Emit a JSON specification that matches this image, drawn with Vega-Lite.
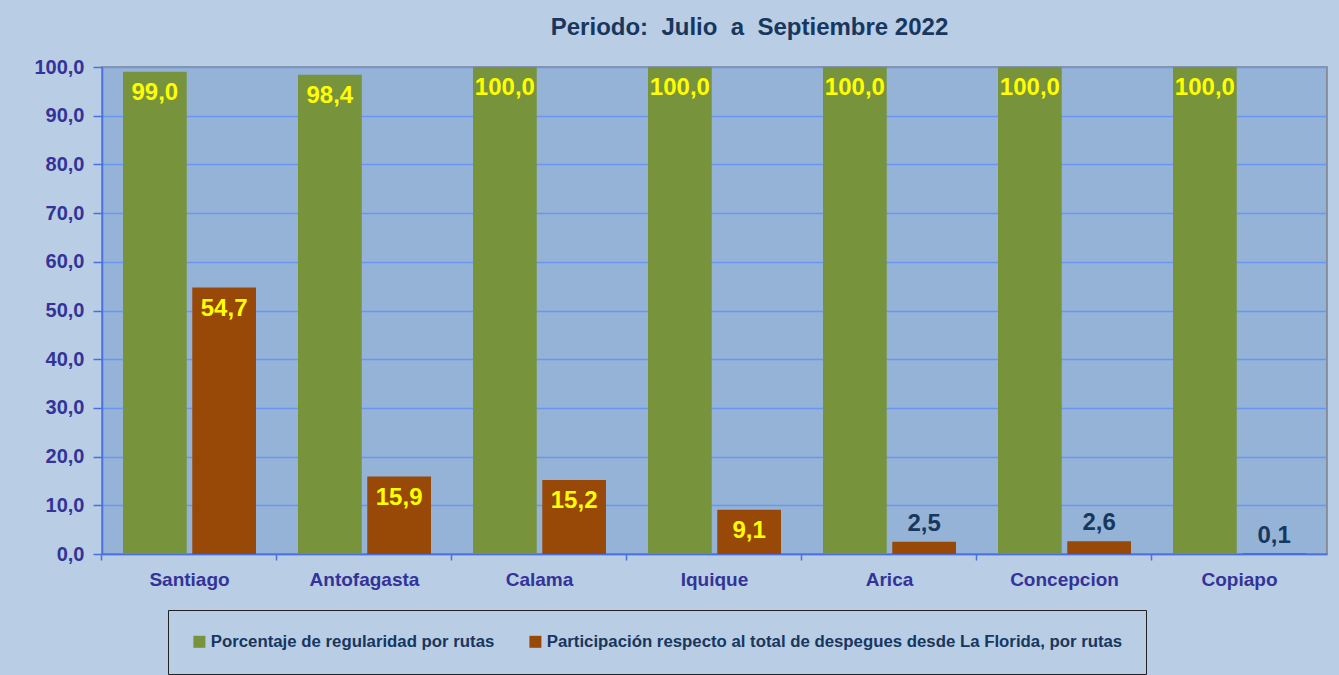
{
  "$schema": "https://vega.github.io/schema/vega-lite/v6.json",
  "width": 1225,
  "height": 487,
  "autosize": {"type": "none"},
  "padding": {"left": 102, "top": 67, "right": 12, "bottom": 121},
  "background": "#B9CDE5",
  "title": {
    "text": "Periodo:\u00a0 Julio\u00a0 a\u00a0 Septiembre 2022",
    "font": "Liberation Sans",
    "fontSize": 24,
    "fontWeight": "bold",
    "color": "#17375E",
    "anchor": "middle",
    "dx": 35,
    "offset": 17
  },
  "config": {
    "locale": {"number": {"decimal": ",", "thousands": ".", "grouping": [3], "currency": ["$", ""]}},
    "view": {"fill": "#95B3D7", "stroke": "#808080", "strokeWidth": 1.5},
    "font": "Liberation Sans"
  },
  "data": {
    "values": [
      {"ruta": "Santiago", "serie": "Porcentaje de regularidad por rutas", "valor": 99.0},
      {"ruta": "Santiago", "serie": "Participación respecto al total de despegues desde La Florida, por rutas", "valor": 54.7},
      {"ruta": "Antofagasta", "serie": "Porcentaje de regularidad por rutas", "valor": 98.4},
      {"ruta": "Antofagasta", "serie": "Participación respecto al total de despegues desde La Florida, por rutas", "valor": 15.9},
      {"ruta": "Calama", "serie": "Porcentaje de regularidad por rutas", "valor": 100.0},
      {"ruta": "Calama", "serie": "Participación respecto al total de despegues desde La Florida, por rutas", "valor": 15.2},
      {"ruta": "Iquique", "serie": "Porcentaje de regularidad por rutas", "valor": 100.0},
      {"ruta": "Iquique", "serie": "Participación respecto al total de despegues desde La Florida, por rutas", "valor": 9.1},
      {"ruta": "Arica", "serie": "Porcentaje de regularidad por rutas", "valor": 100.0},
      {"ruta": "Arica", "serie": "Participación respecto al total de despegues desde La Florida, por rutas", "valor": 2.5},
      {"ruta": "Concepcion", "serie": "Porcentaje de regularidad por rutas", "valor": 100.0},
      {"ruta": "Concepcion", "serie": "Participación respecto al total de despegues desde La Florida, por rutas", "valor": 2.6},
      {"ruta": "Copiapo", "serie": "Porcentaje de regularidad por rutas", "valor": 100.0},
      {"ruta": "Copiapo", "serie": "Participación respecto al total de despegues desde La Florida, por rutas", "valor": 0.1}
    ]
  },
  "encoding": {
    "x": {
      "field": "ruta",
      "type": "nominal",
      "sort": null,
      "scale": {"paddingInner": 0.24, "paddingOuter": 0.12},
      "axis": {
        "title": null,
        "labelAngle": 0,
        "bandPosition": -0.158,
        "labelFont": "Liberation Sans",
        "labelFontSize": 19,
        "labelFontWeight": "bold",
        "labelColor": "#333399",
        "labelPadding": 10,
        "domainColor": "#4A6FE0",
        "domainWidth": 1.5,
        "tickColor": "#4A6FE0",
        "tickWidth": 1.5,
        "tickSize": 6,
        "grid": false
      }
    },
    "xOffset": {
      "field": "serie",
      "type": "nominal",
      "sort": null,
      "scale": {"paddingInner": 0.08, "paddingOuter": 0}
    },
    "y": {
      "field": "valor",
      "type": "quantitative",
      "scale": {"domain": [0, 100], "nice": false},
      "axis": {
        "title": null,
        "values": [0, 10, 20, 30, 40, 50, 60, 70, 80, 90, 100],
        "format": ".1f",
        "labelFont": "Liberation Sans",
        "labelFontSize": 20,
        "labelFontWeight": "bold",
        "labelColor": "#333399",
        "labelPadding": 9,
        "domainColor": "#4A6FE0",
        "domainWidth": 1.5,
        "tickColor": "#4A6FE0",
        "tickWidth": 1.5,
        "tickSize": 9,
        "gridColor": "#6A95F0",
        "gridWidth": 1.5,
        "gridOpacity": 1
      }
    }
  },
  "layer": [
    {
      "mark": {"type": "bar"},
      "encoding": {
        "color": {
          "field": "serie",
          "type": "nominal",
          "sort": null,
          "scale": {
            "domain": ["Porcentaje de regularidad por rutas", "Participación respecto al total de despegues desde La Florida, por rutas"],
            "range": ["#77933C", "#984807"]
          },
          "legend": {
            "title": null,
            "orient": "none",
            "legendX": 66,
            "legendY": 543,
            "direction": "horizontal",
            "symbolType": "square",
            "symbolSize": 144,
            "symbolStrokeWidth": 0,
            "labelFont": "Liberation Sans",
            "labelFontSize": 16.8,
            "labelFontWeight": "bold",
            "labelColor": "#17375E",
            "labelOffset": 3,
            "labelLimit": 800,
            "columnPadding": 32,
            "padding": 23,
            "strokeColor": "#222222",
            "fillColor": "#B9CDE5"
          }
        }
      }
    },
    {
      "transform": [{"filter": "datum.valor >= 5"}],
      "mark": {"type": "text", "baseline": "middle", "dy": 21, "color": "#FFFF00", "font": "Liberation Sans", "fontSize": 24, "fontWeight": "bold"},
      "encoding": {
        "text": {"field": "valor", "type": "quantitative", "format": ".1f"}
      }
    },
    {
      "transform": [{"filter": "datum.valor < 5"}],
      "mark": {"type": "text", "baseline": "middle", "dy": -18, "color": "#17375E", "font": "Liberation Sans", "fontSize": 24, "fontWeight": "bold"},
      "encoding": {
        "text": {"field": "valor", "type": "quantitative", "format": ".1f"}
      }
    }
  ]
}
